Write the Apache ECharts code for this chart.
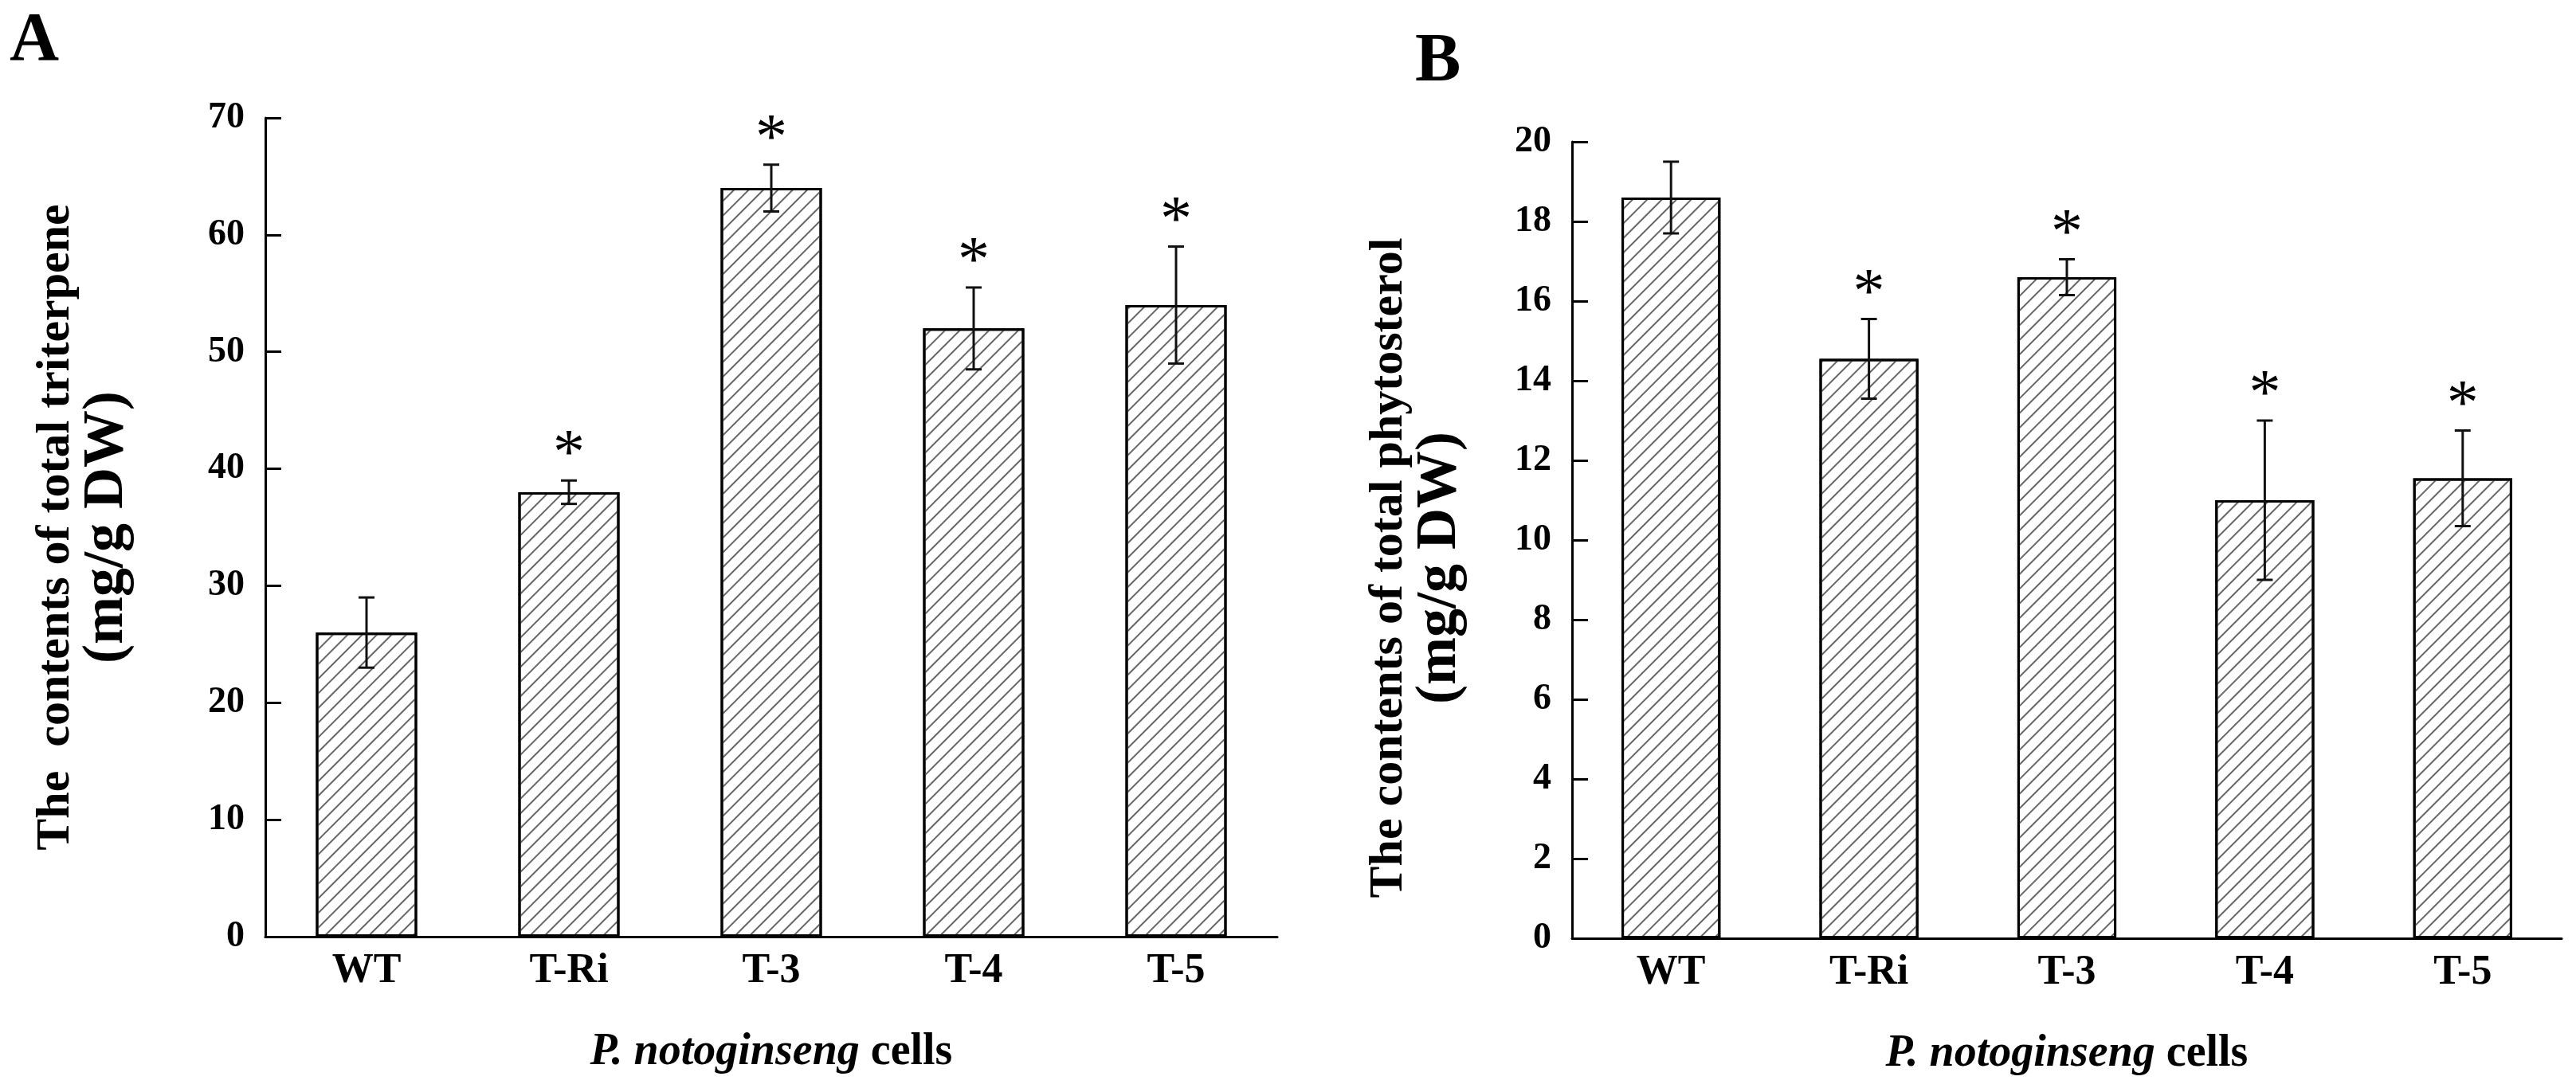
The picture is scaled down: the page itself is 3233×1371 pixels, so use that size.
<!DOCTYPE html>
<html>
<head>
<meta charset="utf-8">
<script src="https://cdn.jsdelivr.net/npm/echarts@6/dist/echarts.min.js"></script>
<style>
html,body{margin:0;padding:0;background:#fff;}
#chart{width:3233px;height:1371px;}
</style>
</head>
<body>
<div id="chart"></div>
<script>
const categories = ['WT', 'T-Ri', 'T-3', 'T-4', 'T-5'];
const triterpeneMean = [26, 38, 64, 52, 54];
const triterpeneErr = [3, 1, 2, 3.5, 5];
const triterpeneSig = [0, 1, 1, 1, 1];
const phytosterolMean = [18.6, 14.55, 16.6, 11.0, 11.55];
const phytosterolErr = [0.9, 1.0, 0.45, 2.0, 1.2];
const phytosterolSig = [0, 1, 1, 1, 1];
const yTicksA = {min: 0, max: 70, interval: 10};
const yTicksB = {min: 0, max: 20, interval: 2};

const FONT = "'Liberation Serif', 'Times New Roman', serif";
const chart = echarts.init(document.getElementById('chart'));

const hatch = {
  symbol: 'rect',
  symbolSize: 1,
  dashArrayX: [1, 0],
  dashArrayY: [2, 11],
  rotation: -Math.PI / 4,
  color: '#666'
};

function errRender(params, api) {
  const i = api.value(0), m = api.value(1), e = api.value(2), s = api.value(3);
  const top = api.coord([i, m + e]);
  const bot = api.coord([i, m - e]);
  const cap = 10;
  const ls = {stroke: '#111', lineWidth: 3};
  const children = [
    {type: 'line', shape: {x1: top[0], y1: top[1], x2: bot[0], y2: bot[1]}, style: ls},
    {type: 'line', shape: {x1: top[0] - cap, y1: top[1], x2: top[0] + cap, y2: top[1]}, style: ls},
    {type: 'line', shape: {x1: bot[0] - cap, y1: bot[1], x2: bot[0] + cap, y2: bot[1]}, style: ls}
  ];
  if (s) {
    children.push({
      type: 'text', x: top[0], y: top[1] - 30,
      style: {text: '*', fontSize: 80, fontFamily: FONT, fill: '#000',
              align: 'center', verticalAlign: 'middle', textAlign: 'center', textVerticalAlign: 'middle'}
    });
  }
  return {type: 'group', children: children};
}

function xAxisCfg(gridIndex) {
  return {
    type: 'category', gridIndex: gridIndex, data: categories,
    axisLine: {lineStyle: {color: '#000', width: 3}},
    axisTick: {inside: true, length: 12, lineStyle: {color: '#000', width: 3}},
    axisLabel: {color: '#000', fontFamily: FONT, fontWeight: 'bold', fontSize: 52, margin: 18},
    name: '{i|P. notoginseng} cells',
    nameLocation: 'middle', nameGap: 118,
    nameTextStyle: {color: '#000', fontFamily: FONT, fontWeight: 'bold', fontSize: 56,
      rich: {i: {fontFamily: FONT, fontWeight: 'bold', fontStyle: 'italic', fontSize: 56, color: '#000'}}}
  };
}
function yAxisCfg(gridIndex, ticks, name, gap, pad) {
  return {
    type: 'value', gridIndex: gridIndex, min: ticks.min, max: ticks.max, interval: ticks.interval,
    splitLine: {show: false},
    axisLine: {show: true, lineStyle: {color: '#000', width: 3}},
    axisTick: {show: true, inside: true, length: 20, lineStyle: {color: '#000', width: 3}},
    axisLabel: {color: '#000', fontFamily: FONT, fontWeight: 'bold', fontSize: 46, margin: 26},
    name: name, nameLocation: 'middle', nameRotate: 90, nameGap: gap,
    nameTextStyle: {color: '#000', fontFamily: FONT, fontWeight: 'bold', fontSize: 60, lineHeight: 62,
      align: 'center', padding: pad,
      rich: {
        t: {fontFamily: FONT, fontWeight: 'bold', fontSize: 60, lineHeight: 62, color: '#000'},
        u: {fontFamily: FONT, fontWeight: 'bold', fontSize: 72, lineHeight: 66, color: '#000'}
      }}
  };
}

const option = {
  backgroundColor: '#fff',
  animation: false,
  grid: [
    {left: 333, top: 148, width: 1270, height: 1028},
    {left: 1973, top: 178, width: 1242, height: 1000}
  ],
  xAxis: [xAxisCfg(0), xAxisCfg(1)],
  yAxis: [
    yAxisCfg(0, yTicksA, '{t|The  contents of total triterpene}\n{u|(mg/g DW)}', 166, [0, 0, 0, 0]),
    yAxisCfg(1, yTicksB, '{t|The contents of total phytosterol}\n{u|(mg/g DW)}', 133, [0, 70, 0, 0])
  ],
  graphic: [
    {type: 'text', left: 12, top: 10, style: {text: 'A', fontSize: 86, fontFamily: FONT, fontWeight: 'bold', fill: '#000'}},
    {type: 'text', left: 1776, top: 36, style: {text: 'B', fontSize: 86, fontFamily: FONT, fontWeight: 'bold', fill: '#000'}}
  ],
  series: [
    {type: 'bar', xAxisIndex: 0, yAxisIndex: 0, data: triterpeneMean, barWidth: '50%',
     itemStyle: {color: '#fff', borderColor: '#000', borderWidth: 3, decal: hatch}},
    {type: 'custom', xAxisIndex: 0, yAxisIndex: 0, z: 5, renderItem: errRender,
     encode: {x: 0, y: 1},
     data: categories.map((c, i) => [i, triterpeneMean[i], triterpeneErr[i], triterpeneSig[i]])},
    {type: 'bar', xAxisIndex: 1, yAxisIndex: 1, data: phytosterolMean, barWidth: '50%',
     itemStyle: {color: '#fff', borderColor: '#000', borderWidth: 3, decal: hatch}},
    {type: 'custom', xAxisIndex: 1, yAxisIndex: 1, z: 5, renderItem: errRender,
     encode: {x: 0, y: 1},
     data: categories.map((c, i) => [i, phytosterolMean[i], phytosterolErr[i], phytosterolSig[i]])}
  ]
};
chart.setOption(option);
</script>
</body>
</html>
